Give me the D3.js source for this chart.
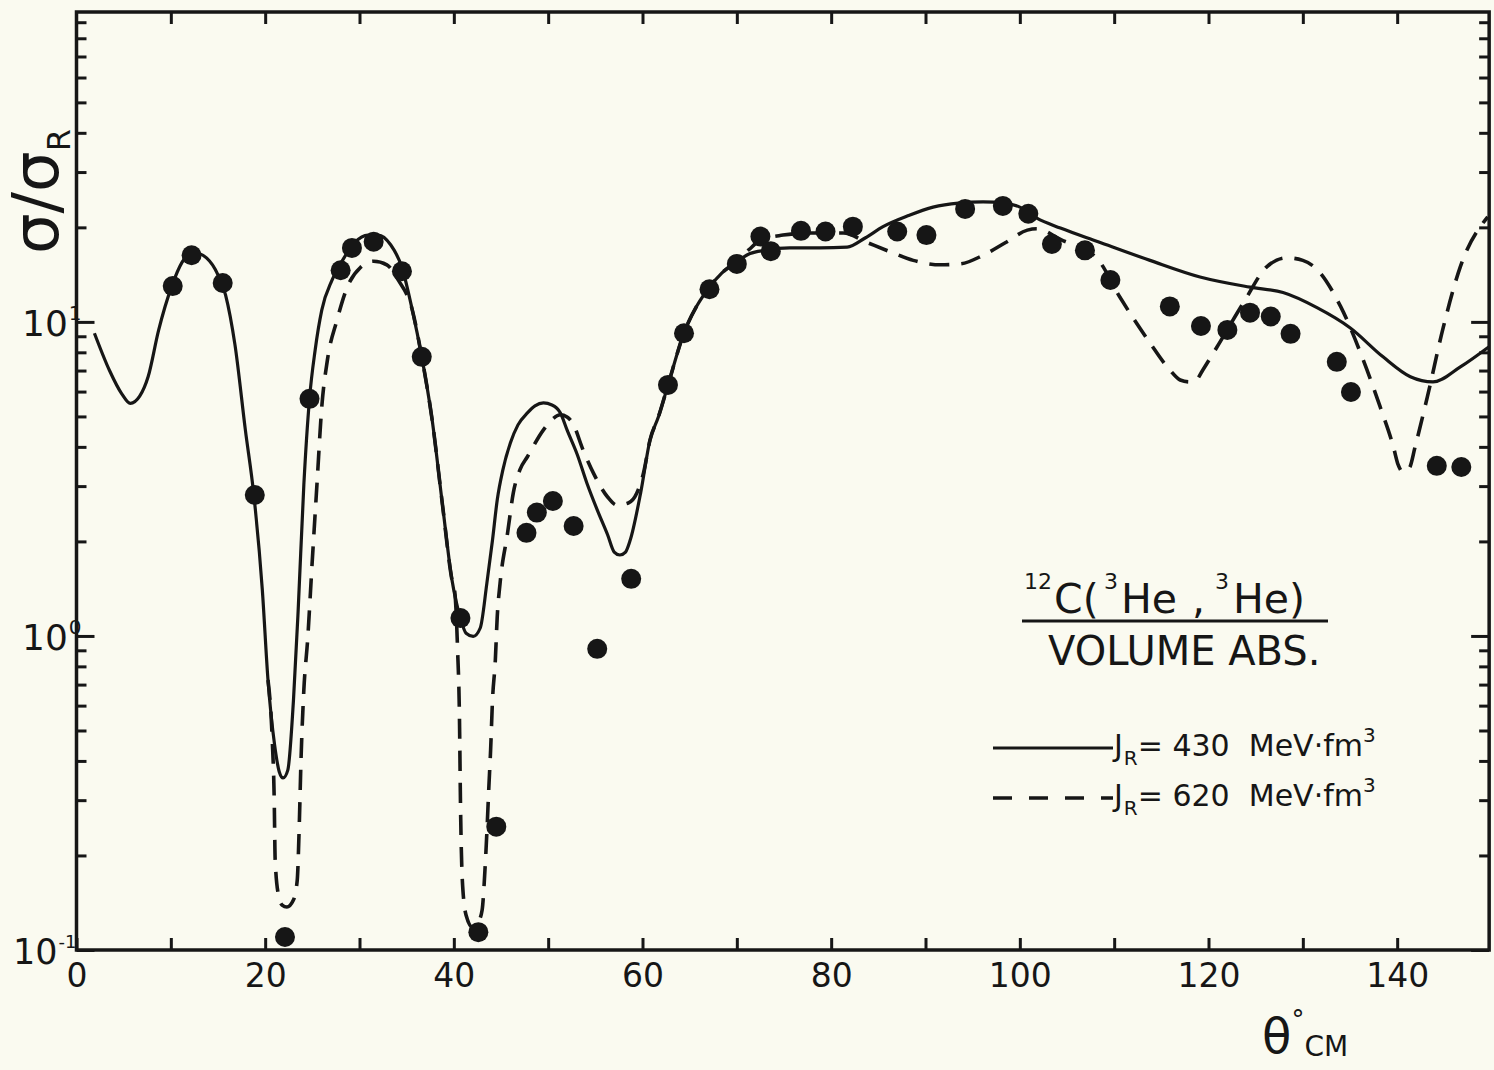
<!DOCTYPE html>
<html>
<head>
<meta charset="utf-8">
<script src="https://cdn.jsdelivr.net/npm/d3@7"></script>
<style>
  body { margin: 0; background: #fafaf0; }
  svg { display: block; }
  text { font-family: "DejaVu Sans", sans-serif; fill: #161616; }
  .axis line { stroke: #161616; stroke-width: 3; }
  .axis path { display: none; }
  .axis text { font-size: 33px; fill: #161616; font-family: "DejaVu Sans", sans-serif; }
</style>
</head>
<body>
<script>
/* DATA */
// measured points, 12C(3He,3He)
const pointTheta = [10.2, 12.2, 15.5, 18.9, 22.1, 24.7, 28.0, 29.2, 31.5, 34.5, 36.6, 40.7, 42.6, 44.5,
  47.7, 48.8, 50.5, 52.7, 55.2, 58.8, 62.7, 64.4, 67.1, 70.0, 72.5, 73.6, 76.8, 79.4, 82.3, 87.0,
  90.1, 94.2, 98.2, 100.9, 103.4, 106.9, 109.6, 115.9, 119.2, 122.0, 124.4, 126.6, 128.7, 133.6,
  135.1, 144.2, 146.8];
const pointRatio = [13.0, 16.3, 13.3, 2.81, 0.11, 5.69, 14.6, 17.2, 18.0, 14.5, 7.74, 1.14, 0.114, 0.247,
  2.13, 2.47, 2.69, 2.24, 0.91, 1.52, 6.3, 9.2, 12.7, 15.3, 18.7, 16.8, 19.5, 19.4, 20.1, 19.4,
  18.9, 22.9, 23.4, 22.1, 17.7, 16.9, 13.6, 11.2, 9.7, 9.43, 10.7, 10.4, 9.16, 7.46,
  5.98, 3.48, 3.45];

// solid curve, J_R = 430 MeV fm^3
const solidTheta = [1.9, 3.5, 4.8, 5.7, 6.7, 7.6, 8.7, 10.1, 11.2, 12.3, 13.4, 14.7, 15.8, 16.8, 17.9,
  18.8, 19.7, 20.3, 21.0, 21.5, 21.9, 22.4, 23.0, 23.5, 24.1, 24.7, 25.3, 26.0, 27.1, 28.2, 29.5,
  30.9, 32.0, 33.3, 34.5, 35.6, 36.6, 37.7, 38.8, 39.8, 40.7, 41.3, 42.05, 42.8, 43.5, 44.1, 44.6,
  45.2, 46.0, 46.8, 47.8, 48.6, 49.5, 50.4, 51.3, 52.0, 53.1, 54.1, 55.2, 56.3, 57.0, 57.6, 58.2,
  58.7, 59.8, 60.8, 61.7, 62.7, 64.4, 65.8, 67.1, 68.4, 69.9, 71.4, 73.0, 75.6, 78.8, 81.7, 83.6,
  85.5, 88.2, 90.8, 93.5, 96.1, 98.4, 100.0, 101.8, 104.3, 108.3, 113.8, 119.1, 124.4, 127.9,
  131.5, 135.0, 138.5, 141.4, 143.8, 146.7, 149.7];
const solidRatio = [9.2, 7.0, 5.9, 5.5, 5.8, 6.7, 9.4, 13.0, 15.5, 16.7, 16.3, 14.7, 12.2, 8.45, 4.53,
  2.81, 1.40, 0.724, 0.45, 0.369, 0.353, 0.374, 0.625, 1.21, 3.03, 5.69, 8.14, 10.9, 13.6, 15.7, 17.9,
  18.9, 18.9, 17.6, 14.9, 10.9, 7.74, 4.88, 2.61, 1.51, 1.14, 1.02, 0.997, 1.06, 1.47, 2.02, 2.71,
  3.38, 4.12, 4.70, 5.13, 5.40, 5.52, 5.44, 5.13, 4.53, 3.77, 3.07, 2.52, 2.10, 1.85, 1.81, 1.85,
  2.02, 2.85, 4.21, 5.0, 6.29, 9.23, 11.3, 12.9, 14.3, 15.5, 16.5, 16.9, 17.2, 17.2, 17.3, 18.5,
  20.1, 21.8, 23.2, 23.9, 24.1, 23.9, 23.2, 21.4, 19.9, 18.0, 15.7, 13.9, 12.9, 12.4,
  11.1, 9.58, 7.74, 6.69, 6.44, 7.19, 8.32];

// dashed curve, J_R = 620 MeV fm^3 (same as solid below 20 deg)
const dashTheta = [20.3, 20.75, 20.96, 21.06, 21.4, 21.8, 22.3, 22.98, 23.4, 23.6, 23.8, 24.1, 24.5,
  25.0, 25.5, 26.0, 26.6, 27.6, 28.7, 30.1, 31.5, 32.9, 34.1, 35.6, 36.6, 37.7, 38.8, 39.8, 40.1,
  40.4, 40.6, 40.7, 40.9, 41.3, 42.0, 42.6, 43.0, 43.3, 43.5, 43.7, 43.9, 44.1, 44.4, 44.6, 44.9,
  45.7, 46.3, 47.0, 47.8, 49.5, 50.4, 51.3, 52.0, 52.6, 53.7, 54.8, 56.3, 57.3, 58.5, 59.4, 60.1,
  60.8, 61.7, 62.7, 64.4, 65.8, 67.1, 68.4, 69.9, 71.3, 72.5, 74.9, 77.8, 81.3, 83.8, 86.3, 88.7,
  91.6, 93.7, 96.1, 98.5, 100.8, 101.8, 104.3, 108.2, 110.6, 113.8, 115.9, 117.0, 118.0, 118.7,
  119.4, 120.9, 123.7, 126.2, 128.3, 130.0, 131.5, 134.0, 136.4, 138.2, 139.6, 140.1, 140.6,
  141.3, 141.9, 143.2, 144.9, 146.7, 149.6];
const dashRatio = [0.724, 0.467, 0.301, 0.194, 0.150, 0.139, 0.137, 0.144, 0.167, 0.241, 0.403, 0.673, 0.971,
  1.75, 3.07, 5.36, 7.57, 10.1, 12.9, 14.9, 15.6, 15.2, 13.6, 10.9, 7.74, 4.88, 2.61, 1.51, 1.38,
  0.90, 0.54, 0.30, 0.167, 0.129, 0.118, 0.123, 0.134, 0.180, 0.236, 0.324, 0.434, 0.625, 0.839, 1.15, 1.47,
  2.13, 2.85, 3.38, 3.72, 4.53, 4.88, 5.06, 4.98, 4.76, 3.91, 3.30, 2.77, 2.61, 2.65, 2.85, 3.3,
  4.21, 5.0, 6.29, 9.23, 11.3, 12.9, 14.3, 15.5, 17.0, 18.2, 18.9, 19.2, 19.2, 17.9, 16.7, 15.7,
  15.2, 15.3, 16.3, 17.9, 19.6, 19.8, 18.3, 15.9, 12.0, 8.57, 7.03, 6.53, 6.44, 6.53,
  7.03, 8.32, 11.5, 15.0, 16.0, 15.7, 14.7, 11.2, 7.57, 5.36, 4.0, 3.51, 3.33,
  3.43, 4.0, 5.77, 9.64, 15.0, 21.6];

const xTickValues = d3.range(0, 150, 10);
const xTickLabels = [0, 20, 40, 60, 80, 100, 120, 140];
const decades = [-1, 0, 1];

/* CONSTANTS */
const width = 1494;
const height = 1070;
const ink = "#161616";

const x = d3.scaleLinear().domain([0, 150]).range([76.5, 1491.5]);
const y = d3.scaleLog().domain([0.1, 97]).range([950, 12]);

const frame = { left: x(0), right: x(149.75), top: y(97), bottom: y(0.1) };

const majorVals = decades.map(e => Math.pow(10, e));
const minorVals = [];
decades.forEach(e => {
  for (let m = 2; m <= 9; m++) minorVals.push(m * Math.pow(10, e));
});

const svg = d3.select("body").append("svg")
  .attr("width", width)
  .attr("height", height);

svg.append("rect").attr("width", width).attr("height", height).attr("fill", "#fafaf0");

// FRAME
svg.append("rect")
  .attr("x", frame.left).attr("y", frame.top)
  .attr("width", frame.right - frame.left).attr("height", frame.bottom - frame.top)
  .attr("fill", "none").attr("stroke", ink).attr("stroke-width", 3.5);

// X AXES (ticks inward)
svg.append("g").attr("class", "axis")
  .attr("transform", `translate(0,${frame.bottom})`)
  .call(d3.axisBottom(x).tickValues(xTickValues).tickSize(-12).tickPadding(14)
    .tickFormat(d => xTickLabels.includes(d) ? d : ""));

svg.append("g").attr("class", "axis")
  .attr("transform", `translate(0,${frame.top})`)
  .call(d3.axisTop(x).tickValues(xTickValues.filter(d => d > 0)).tickSize(-12).tickFormat(""));

// Y AXES (log ticks inward)
svg.append("g").attr("class", "axis")
  .attr("transform", `translate(${frame.left},0)`)
  .call(d3.axisLeft(y).tickValues(minorVals).tickSize(-10).tickFormat(""));
svg.append("g").attr("class", "axis")
  .attr("transform", `translate(${frame.left},0)`)
  .call(d3.axisLeft(y).tickValues(majorVals).tickSize(-18).tickFormat(""));
svg.append("g").attr("class", "axis")
  .attr("transform", `translate(${frame.right},0)`)
  .call(d3.axisRight(y).tickValues(minorVals).tickSize(-10).tickFormat(""));
svg.append("g").attr("class", "axis")
  .attr("transform", `translate(${frame.right},0)`)
  .call(d3.axisRight(y).tickValues(majorVals).tickSize(-18).tickFormat(""));

// Y TICK LABELS 10^n
decades.forEach(e => {
  const t = svg.append("text")
    .attr("x", e < 0 ? 13 : 22)
    .attr("y", y(Math.pow(10, e)) + 14)
    .attr("font-size", e < 0 ? 35 : 36);
  t.append("tspan").text("10");
  t.append("tspan").attr("font-size", e < 0 ? 18 : 20).attr("dy", -16).attr("dx", 1)
    .text(e < 0 ? "-1" : String(e));
});

// AXIS TITLES
const yl = svg.append("text")
  .attr("transform", "translate(58,254) rotate(-90)")
  .attr("font-size", 64);
yl.append("tspan").text("σ/σ");
yl.append("tspan").attr("font-size", 32).attr("dy", 12).text("R");

const xl = svg.append("text").attr("x", 1262).attr("y", 1053).attr("font-size", 48);
xl.append("tspan").text("θ");
xl.append("tspan").attr("font-size", 26).attr("dx", 0).attr("dy", -24).text("°");
xl.append("tspan").attr("font-size", 28).attr("dx", 0).attr("dy", 27).text("CM");

// CURVES
const line = d3.line()
  .x(d => x(d[0]))
  .y(d => y(d[1]))
  .curve(d3.curveMonotoneX);

svg.append("path")
  .datum(solidTheta.map((t, i) => [t, solidRatio[i]]))
  .attr("d", line)
  .attr("fill", "none").attr("stroke", ink).attr("stroke-width", 3.2);

svg.append("path")
  .datum(dashTheta.map((t, i) => [t, dashRatio[i]]))
  .attr("d", line)
  .attr("fill", "none").attr("stroke", ink).attr("stroke-width", 3.6)
  .attr("stroke-dasharray", "20,12");

// DATA POINTS
svg.selectAll("circle.pt")
  .data(pointTheta.map((t, i) => [t, pointRatio[i]]))
  .enter().append("circle")
  .attr("class", "pt")
  .attr("cx", d => x(d[0]))
  .attr("cy", d => y(d[1]))
  .attr("r", 10)
  .attr("fill", ink);

// LEGEND / REACTION LABEL
const big = 41, sup = 22;
svg.append("text").attr("x", 1024).attr("y", 589).attr("font-size", sup).text("12");
svg.append("text").attr("x", 1054).attr("y", 613).attr("font-size", big).text("C(");
svg.append("text").attr("x", 1104).attr("y", 589).attr("font-size", sup).text("3");
svg.append("text").attr("x", 1121).attr("y", 613).attr("font-size", big).text("He");
svg.append("text").attr("x", 1192).attr("y", 613).attr("font-size", big).text(",");
svg.append("text").attr("x", 1215).attr("y", 589).attr("font-size", sup).text("3");
svg.append("text").attr("x", 1233).attr("y", 613).attr("font-size", big).text("He)");
svg.append("line").attr("x1", 1022).attr("x2", 1328).attr("y1", 621).attr("y2", 621)
  .attr("stroke", ink).attr("stroke-width", 3);
svg.append("text").attr("x", 1048).attr("y", 665).attr("font-size", 40).text("VOLUME ABS.");

const legend = [
  { y: 748, dash: null, value: "430" },
  { y: 798, dash: "19,17", value: "620" }
];
legend.forEach(l => {
  svg.append("line").attr("x1", 993).attr("x2", 1113).attr("y1", l.y).attr("y2", l.y)
    .attr("stroke", ink).attr("stroke-width", l.dash ? 3.6 : 3)
    .attr("stroke-dasharray", l.dash);
  const t = svg.append("text").attr("x", 1114).attr("y", l.y + 8).attr("font-size", 30)
    .style("white-space", "pre");
  t.append("tspan").text("J");
  t.append("tspan").attr("font-size", 20).attr("dy", 9).attr("dx", 1).text("R");
  t.append("tspan").attr("dy", -9).text("= " + l.value + "  MeV·fm");
  t.append("tspan").attr("font-size", 20).attr("dy", -14).attr("dx", 0).text("3");
});
</script>
</body>
</html>
